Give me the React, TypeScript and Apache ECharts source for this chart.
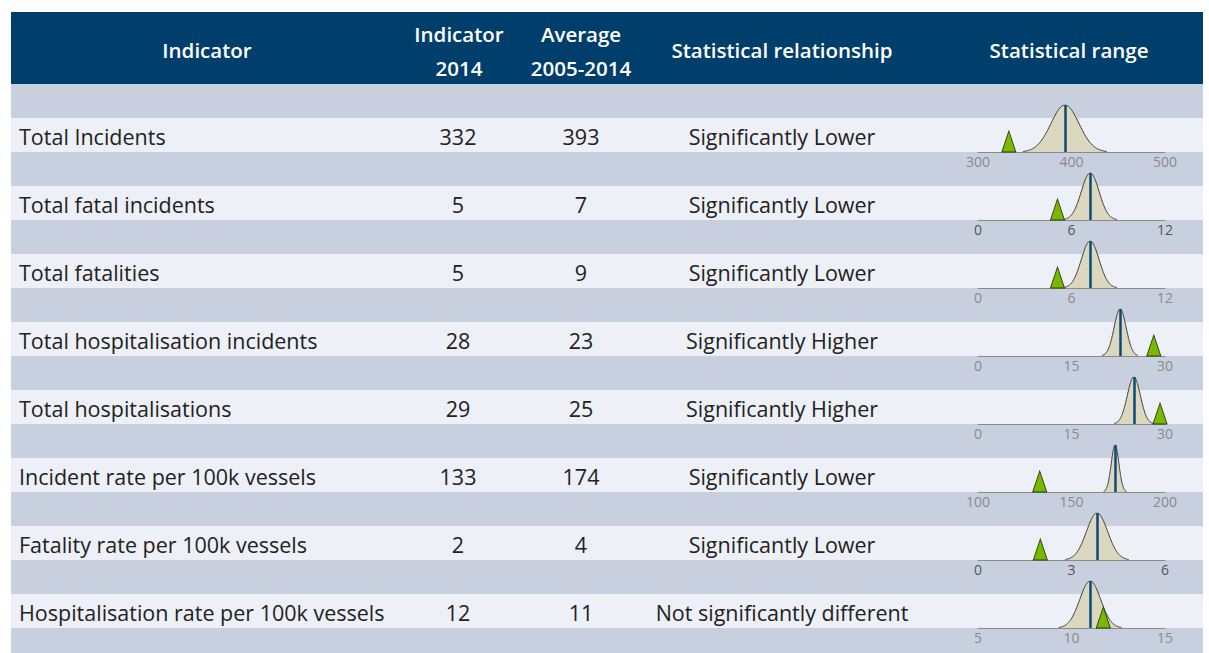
import React, { useEffect, useRef } from "react";
import * as echarts from "echarts";

const indicators = [
  "Total Incidents",
  "Total fatal incidents",
  "Total fatalities",
  "Total hospitalisation incidents",
  "Total hospitalisations",
  "Incident rate per 100k vessels",
  "Fatality rate per 100k vessels",
  "Hospitalisation rate per 100k vessels",
];
const values2014 = ["332", "5", "5", "28", "29", "133", "2", "12"];
const averages = ["393", "7", "9", "23", "25", "174", "4", "11"];
const relationships = [
  "Significantly Lower",
  "Significantly Lower",
  "Significantly Lower",
  "Significantly Higher",
  "Significantly Higher",
  "Significantly Lower",
  "Significantly Lower",
  "Not significantly different",
];
// Statistical range mini charts
const axisMin = [300, 0, 0, 0, 0, 100, 0, 5];
const axisMax = [500, 12, 12, 30, 30, 200, 6, 15];
const curveMean = [393, 7.2, 7.2, 22.8, 25.0, 173.3, 3.82, 11.0];
const curveSd = [15, 0.57, 0.57, 0.97, 1.05, 2.05, 0.34, 0.56];
const markerValue = [333, 5.1, 5.1, 28.2, 29.2, 133, 2.0, 11.7];
const darkLabelRows = [1, 6];

const FONT = "'Open Sans', 'Noto Sans', sans-serif";
const HEADER = "#003e6b";
const BAND_DARK = "#c8d0df";
const BAND_LIGHT = "#edf0f6";

const LEFT = 11;
const RIGHT = 1203;
const HEAD_TOP = 12;
const HEAD_BOTTOM = 84;
const ROW_H = 34;

function bell(mean: number, sd: number): number[][] {
  const pts: number[][] = [];
  const n = 60;
  for (let k = 0; k <= n; k++) {
    const x = mean - 3 * sd + (6 * sd * k) / n;
    const z = (x - mean) / sd;
    pts.push([x, Math.exp(-0.5 * z * z)]);
  }
  return pts;
}

export default function App() {
  const ref = useRef<HTMLDivElement>(null);
  useEffect(() => {
    if (!ref.current) return;
    const chart = echarts.init(ref.current, undefined, { renderer: "svg" });
    const graphic: any[] = [];
    graphic.push({
      type: "rect",
      shape: { x: LEFT, y: HEAD_TOP, width: RIGHT - LEFT, height: HEAD_BOTTOM - HEAD_TOP },
      style: { fill: HEADER },
      z: 0,
    });
    let y = HEAD_BOTTOM;
    let idx = 0;
    while (y < 653) {
      graphic.push({
        type: "rect",
        shape: { x: LEFT, y, width: RIGHT - LEFT, height: Math.min(ROW_H, 653 - y) },
        style: { fill: idx % 2 === 0 ? BAND_DARK : BAND_LIGHT },
        z: 0,
      });
      y += ROW_H;
      idx++;
    }
    const headText = (text: string, x: number, ty: number) => ({
      type: "text",
      x,
      y: ty,
      z: 5,
      style: {
        text,
        fill: "#ffffff",
        font: `600 20.5px ${FONT}`,
        textAlign: "center",
        textVerticalAlign: "middle",
      },
    });
    graphic.push(headText("Indicator", 207, 50));
    graphic.push(headText("Indicator", 459, 34));
    graphic.push(headText("2014", 459, 68));
    graphic.push(headText("Average", 581, 34));
    graphic.push(headText("2005-2014", 581, 68));
    graphic.push(headText("Statistical relationship", 782, 50));
    graphic.push(headText("Statistical range", 1069, 50));

    const cellText = (text: string, x: number, ty: number, align: string) => ({
      type: "text",
      x,
      y: ty,
      z: 5,
      style: {
        text,
        fill: "#222222",
        font: `21.5px ${FONT}`,
        textAlign: align,
        textVerticalAlign: "middle",
      },
    });
    indicators.forEach((name, i) => {
      const cy = 136 + 68 * i;
      graphic.push(cellText(name, 19, cy, "left"));
      graphic.push(cellText(values2014[i], 458, cy, "center"));
      graphic.push(cellText(averages[i], 581, cy, "center"));
      graphic.push(cellText(relationships[i], 782, cy, "center"));
    });

    const grids: any[] = [];
    const xAxes: any[] = [];
    const yAxes: any[] = [];
    const series: any[] = [];
    indicators.forEach((_, i) => {
      const base = 152 + 68 * i;
      grids.push({ left: 978, top: base - 47, width: 187, height: 47 });
      xAxes.push({
        gridIndex: i,
        type: "value",
        min: axisMin[i],
        max: axisMax[i],
        interval: (axisMax[i] - axisMin[i]) / 2,
        axisLine: { show: true, lineStyle: { color: "#8a8a8a", width: 1 } },
        axisTick: { show: false },
        splitLine: { show: false },
        axisLabel: {
          show: true,
          margin: 2,
          color: darkLabelRows.includes(i) ? "#555555" : "#8a8a8a",
          fontSize: 14,
          fontFamily: FONT,
        },
      });
      yAxes.push({
        gridIndex: i,
        type: "value",
        min: 0,
        max: 1,
        show: false,
      });
      series.push({
        type: "line",
        xAxisIndex: i,
        yAxisIndex: i,
        data: bell(curveMean[i], curveSd[i]),
        smooth: true,
        showSymbol: false,
        symbol: "none",
        lineStyle: { color: "#3a3a3a", width: 1 },
        areaStyle: { color: "#dbd8bf", opacity: 1 },
        z: 2,
        markLine: {
          silent: true,
          symbol: "none",
          label: { show: false },
          lineStyle: { color: "#0b4a78", width: 2.5, type: "solid" },
          data: [{ xAxis: curveMean[i] }],
        },
      });
      series.push({
        type: "scatter",
        xAxisIndex: i,
        yAxisIndex: i,
        data: [[markerValue[i], 0]],
        symbol: "triangle",
        symbolSize: [14, 21],
        symbolOffset: [0, -10.5],
        itemStyle: { color: "#78b800", borderColor: "#2f3b10", borderWidth: 1, opacity: 1 },
        z: 4,
      });
    });

    chart.setOption({
      animation: false,
      backgroundColor: "#ffffff",
      graphic: { elements: graphic },
      grid: grids,
      xAxis: xAxes,
      yAxis: yAxes,
      series,
    });
    return () => chart.dispose();
  }, []);
  return (
    <div
      ref={ref}
      style={{ position: "fixed", left: 0, top: 0, width: 1209, height: 653 }}
    />
  );
}
